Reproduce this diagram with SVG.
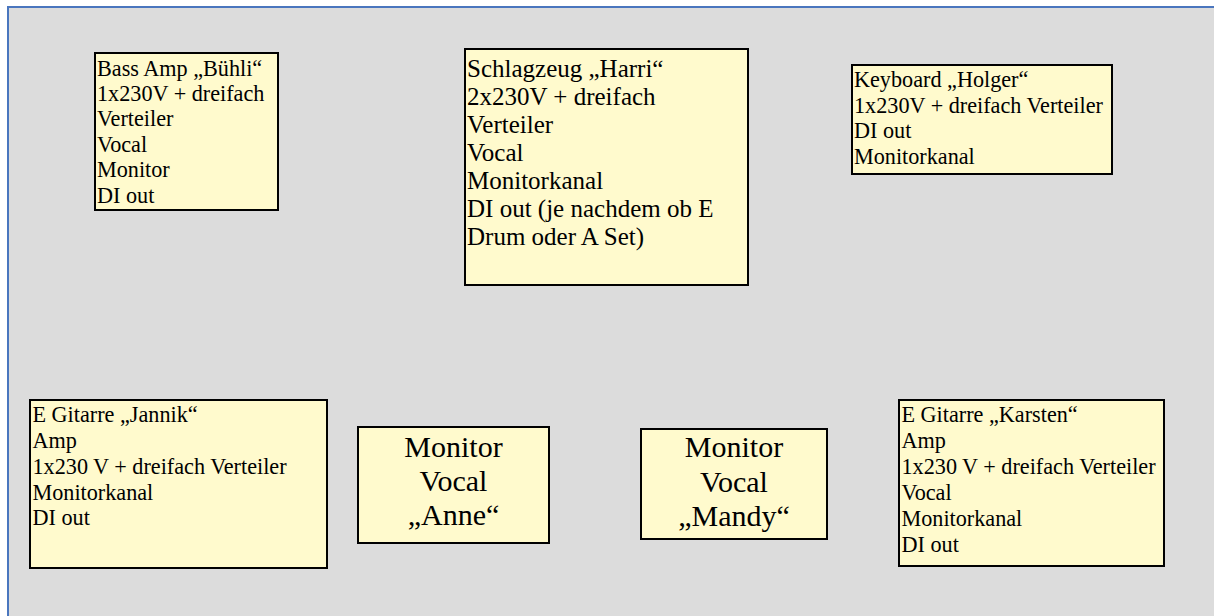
<svg xmlns="http://www.w3.org/2000/svg" width="1214" height="616" viewBox="0 0 1214 616">
  <style>
    .box { fill: #FFFACD; stroke: #000; stroke-width: 2; }
    .shadow { fill: #9a9a9a; }
    .t { font-family: "Liberation Serif", "Times New Roman", serif; font-size: 22.2px; fill: #000; }
    .big { font-family: "Liberation Serif", "Times New Roman", serif; font-size: 25px; fill: #000; }
    .mon { font-family: "Liberation Serif", "Times New Roman", serif; font-size: 30px; fill: #000; text-anchor: middle; }
  </style>
  <rect x="0" y="0" width="1214" height="616" fill="#ffffff"/>
  <rect x="8" y="7" width="1210" height="615" fill="#DCDCDC" stroke="#4A76BE" stroke-width="2"/>
  <g id="connectors"></g>

  <g id="bass">
    <rect class="shadow" x="96" y="54" width="183" height="157"/>
    <rect class="box" x="95" y="53" width="183" height="157"/>
    <text class="t" x="97" y="76">Bass Amp „Bühli“</text>
    <text class="t" x="97" y="101">1x230V + dreifach</text>
    <text class="t" x="97" y="126">Verteiler</text>
    <text class="t" x="97" y="152">Vocal</text>
    <text class="t" x="97" y="177">Monitor</text>
    <text class="t" x="97" y="203">DI out</text>
  </g>

  <g id="schlagzeug">
    <rect class="shadow" x="466" y="50" width="283" height="236"/>
    <rect class="box" x="465" y="49" width="283" height="236"/>
    <text class="big" x="467" y="77">Schlagzeug „Harri“</text>
    <text class="big" x="467" y="105">2x230V + dreifach</text>
    <text class="big" x="467" y="133">Verteiler</text>
    <text class="big" x="467" y="161">Vocal</text>
    <text class="big" x="467" y="189">Monitorkanal</text>
    <text class="big" x="467" y="217">DI out (je nachdem ob E</text>
    <text class="big" x="467" y="245">Drum oder A Set)</text>
  </g>

  <g id="keyboard">
    <rect class="shadow" x="853" y="66" width="260" height="109"/>
    <rect class="box" x="852" y="65" width="260" height="109"/>
    <text class="t" x="854" y="87">Keyboard „Holger“</text>
    <text class="t" x="854" y="112.5">1x230V + dreifach Verteiler</text>
    <text class="t" x="854" y="138">DI out</text>
    <text class="t" x="854" y="164">Monitorkanal</text>
  </g>

  <g id="jannik">
    <rect class="shadow" x="31" y="401" width="297" height="168"/>
    <rect class="box" x="30" y="400" width="297" height="168"/>
    <text class="t" x="32.5" y="422">E Gitarre „Jannik“</text>
    <text class="t" x="32.5" y="448">Amp</text>
    <text class="t" x="32.5" y="474">1x230 V + dreifach Verteiler</text>
    <text class="t" x="32.5" y="500">Monitorkanal</text>
    <text class="t" x="32.5" y="525">DI out</text>
  </g>

  <g id="anne">
    <rect class="shadow" x="359" y="428" width="191" height="116"/>
    <rect class="box" x="358" y="427" width="191" height="116"/>
    <text class="mon" x="453.5" y="457">Monitor</text>
    <text class="mon" x="453.5" y="491">Vocal</text>
    <text class="mon" x="453.5" y="525">„Anne“</text>
  </g>

  <g id="mandy">
    <rect class="shadow" x="642" y="430" width="186" height="110"/>
    <rect class="box" x="641" y="429" width="186" height="110"/>
    <text class="mon" x="734" y="457">Monitor</text>
    <text class="mon" x="734" y="492">Vocal</text>
    <text class="mon" x="734" y="526">„Mandy“</text>
  </g>

  <g id="karsten">
    <rect class="shadow" x="900" y="401" width="265" height="166"/>
    <rect class="box" x="899" y="400" width="265" height="166"/>
    <text class="t" x="901.5" y="422">E Gitarre „Karsten“</text>
    <text class="t" x="901.5" y="448">Amp</text>
    <text class="t" x="901.5" y="474">1x230 V + dreifach Verteiler</text>
    <text class="t" x="901.5" y="500">Vocal</text>
    <text class="t" x="901.5" y="525.5">Monitorkanal</text>
    <text class="t" x="901.5" y="551.5">DI out</text>
  </g>
</svg>
